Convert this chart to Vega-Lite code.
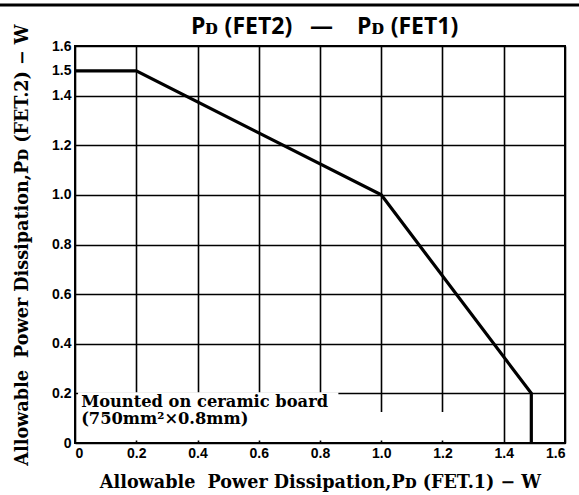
{
  "$schema": "https://vega.github.io/schema/vega-lite/v6.json",
  "width": 490,
  "height": 397,
  "autosize": "none",
  "padding": {"left": 75, "top": 46, "right": 14, "bottom": 52},
  "background": "white",
  "config": {
    "view": {"stroke": "black", "strokeWidth": 2},
    "axis": {
      "domain": false,
      "ticks": false,
      "gridColor": "black",
      "gridWidth": 1.6,
      "gridOpacity": 1,
      "labelFont": "Liberation Sans",
      "labelFontWeight": "bold",
      "labelFontSize": 14,
      "labelColor": "black",
      "titleFont": "DejaVu Serif",
      "titleFontWeight": "bold",
      "titleFontSize": 17.6,
      "titleColor": "black",
      "zindex": 0
    }
  },
  "layer": [
    {
      "data": {"values": [
        {"fet1": 0, "fet2": 1.5},
        {"fet1": 0.2, "fet2": 1.5},
        {"fet1": 1.0, "fet2": 1.0},
        {"fet1": 1.49, "fet2": 0.2},
        {"fet1": 1.49, "fet2": 0}
      ]},
      "mark": {"type": "line", "color": "black", "strokeWidth": 3.2},
      "encoding": {
        "x": {
          "field": "fet1", "type": "quantitative",
          "scale": {"domain": [0, 1.6], "nice": false, "zero": false},
          "axis": {
            "values": [0, 0.2, 0.4, 0.6, 0.8, 1.0, 1.2, 1.4, 1.6],
            "labelExpr": "datum.value == 0 ? '0' : format(datum.value, '.1f')",
            "labelPadding": 3,
            "title": "Allowable\u00a0 Power Dissipation,Pᴅ (FET.1) − W",
            "titlePadding": 13
          }
        },
        "y": {
          "field": "fet2", "type": "quantitative",
          "scale": {"domain": [0, 1.6], "nice": false, "zero": false},
          "axis": {
            "values": [0, 0.2, 0.4, 0.6, 0.8, 1.0, 1.2, 1.4, 1.5, 1.6],
            "labelExpr": "datum.value == 0 ? '0' : format(datum.value, '.1f')",
            "labelPadding": 4,
            "gridOpacity": {"condition": {"test": "datum.value == 1.5", "value": 0}, "value": 1},
            "title": "Allowable\u00a0 Power Dissipation,Pᴅ (FET.2) − W",
            "titlePadding": 20
          }
        }
      }
    },
    {
      "data": {"values": [
        {"a": 0.01, "b": 0.86, "c": 0.01, "d": 0.205},
        {"a": 0.86, "b": 1.3, "c": 0.01, "d": 0.125}
      ]},
      "mark": {"type": "rect", "color": "white", "opacity": 1},
      "encoding": {
        "x": {"field": "a", "type": "quantitative"},
        "x2": {"field": "b"},
        "y": {"field": "c", "type": "quantitative"},
        "y2": {"field": "d"}
      }
    },
    {
      "data": {"values": [
        {"tx": 0.02, "ty": 0.145, "label": "Mounted on ceramic board"},
        {"tx": 0.02, "ty": 0.075, "label": "(750mm²×0.8mm)"}
      ]},
      "mark": {"type": "text", "align": "left", "baseline": "alphabetic", "font": "DejaVu Serif", "fontSize": 16.3, "fontWeight": "bold", "color": "black"},
      "encoding": {
        "x": {"field": "tx", "type": "quantitative"},
        "y": {"field": "ty", "type": "quantitative"},
        "text": {"field": "label"}
      }
    },
    {
      "data": {"values": [{"label": "Pᴅ (FET2)\u00a0\u00a0\u00a0—\u00a0\u00a0\u00a0\u00a0Pᴅ (FET1)"}]},
      "mark": {"type": "text", "align": "center", "baseline": "alphabetic", "font": "Open Sans", "fontSize": 23, "fontWeight": "bold", "color": "black", "clip": false},
      "encoding": {
        "x": {"datum": 0.815},
        "y": {"datum": 1.65},
        "text": {"field": "label"}
      }
    },
    {
      "data": {"values": [{"edge": "top"}]},
      "mark": {"type": "rule", "color": "black", "strokeWidth": 3, "clip": false},
      "encoding": {
        "x": {"datum": -0.25},
        "x2": {"datum": 1.7},
        "y": {"datum": 1.765}
      }
    }
  ]
}
